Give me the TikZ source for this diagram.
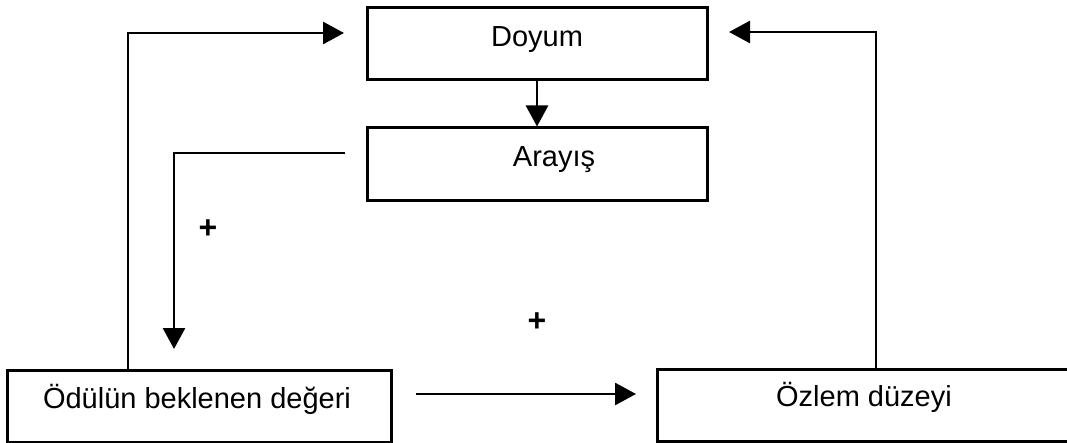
\documentclass[tikz,border=0pt]{standalone}
\usepackage{fontspec}
\setmainfont{Liberation Sans}
\usetikzlibrary{arrows.meta}
\begin{document}
\begin{tikzpicture}[x=1pt,y=-1pt,
  box/.style={draw,line width=3pt,minimum width=#1,inner sep=0pt,minimum height=72pt},
  lbl/.style={anchor=base,font=\fontsize{29}{32}\selectfont,inner sep=0pt},
  plus/.style={font=\bfseries\fontsize{32}{34}\selectfont,inner sep=0pt},
  conn/.style={line width=2.8pt},
  arr/.style={conn,-{Triangle[length=21pt,width=22pt]}}]
\useasboundingbox (0,0) rectangle (1067,443);
\node[box=340pt] (doyum) at (537,44) {};
\node[box=340pt,minimum height=73pt] (arayis) at (537,164.5) {};
\node[box=384pt] (odul) at (199,406) {};
\node[box=418pt] (ozlem) at (866,405) {};
\node[lbl] (tdoyum) at (537,47) {Doyum};
\node[lbl] (tarayis) at (554,167) {Arayış};
\node[lbl] (todul) at (197,408) {Ödülün beklenen değeri};
\node[lbl] (tozlem) at (864,406) {Özlem düzeyi};
\node[plus] (p1) at (208,229) {+};
\node[plus] (p2) at (537,322) {+};
% coordinates
\coordinate (a1s) at (128,370);
\coordinate (a1t) at (344,33);
\coordinate (a2s) at (876,369);
\coordinate (a2t) at (729,32);
\coordinate (a4s) at (345,153);
\coordinate (a4t) at (174,349);
\coordinate (a5s) at (416,394);
\coordinate (a5t) at (636,394);
\draw[arr] (a1s) |- (a1t);
\draw[arr] (a2s) |- (a2t);
\draw[arr] (doyum.south) -- (arayis.north);
\draw[arr] (a4s) -| (a4t);
\draw[arr] (a5s) -- (a5t);
\end{tikzpicture}
\end{document}
